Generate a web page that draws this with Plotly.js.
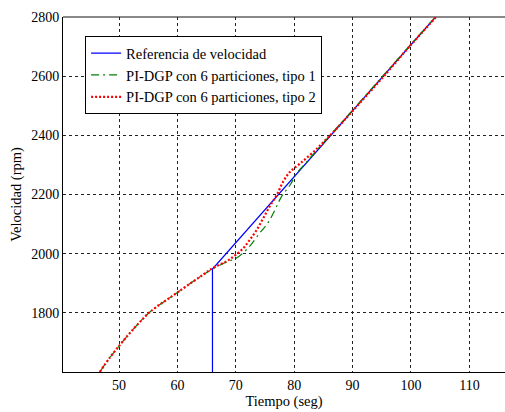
<!DOCTYPE html>
<html>
<head>
<meta charset="utf-8">
<script src="https://cdn.plot.ly/plotly-3.0.1.min.js"></script>
<style>html,body{margin:0;padding:0;background:#fff;}#chart{width:505px;height:412px;}</style>
</head>
<body>
<div id="chart"></div>
<script>
// Reference speed (blue)
const refTime = [66, 66, 104.2, 106];
const refSpeed = [1500, 1948, 2800, 2840];

// PI-DGP, 6 partitions, type 1 (green)
const t1Time = [46.7, 48.4, 50, 51.3, 52.4, 53.8, 55, 56.4, 58.4, 60, 62.1, 64.4, 66, 68.4, 70.1, 72.1, 74.1, 75.5, 76.7, 77.8, 79.3, 80.4, 81.5, 85, 90, 95, 100, 104.2, 106];
const t1Speed = [1600, 1648, 1688, 1719, 1744, 1774, 1798, 1820, 1847, 1869, 1898, 1929, 1948, 1972, 1985, 2019, 2070, 2104, 2148, 2192, 2232, 2271, 2296, 2375, 2485, 2597, 2708, 2800, 2840];

// PI-DGP, 6 partitions, type 2 (red)
const t2Time = [46.7, 48.4, 50, 51.3, 52.4, 53.8, 55, 56.4, 58.4, 60, 62.1, 64.4, 66.1, 68.4, 69.8, 71.3, 72.4, 73.6, 74.7, 75.8, 77, 78.1, 79.3, 81, 83.3, 85.6, 87.8, 90, 95, 100, 104.3, 106];
const t2Speed = [1600, 1648, 1688, 1719, 1744, 1774, 1798, 1820, 1847, 1869, 1898, 1929, 1952, 1974, 1993, 2019, 2047, 2081, 2120, 2160, 2198, 2243, 2277, 2305, 2344, 2389, 2434, 2482, 2592, 2706, 2800, 2838];

const xTicks = [50, 60, 70, 80, 90, 100, 110];
const yTicks = [1800, 2000, 2200, 2400, 2600, 2800];

const family = 'Liberation Serif';
const tickFont = {family: family, size: 14, color: '#000'};
const titleFont = {family: family, size: 14.5, color: '#000'};
const legendFont = {family: family, size: 14.5, color: '#000'};

const traces = [
  {x: refTime, y: refSpeed, mode: 'lines', name: 'Referencia de velocidad',
   line: {color: '#0000ff', width: 1.2}},
  {x: t1Time, y: t1Speed, mode: 'lines', name: 'PI-DGP con 6 particiones, tipo 1',
   line: {color: '#008000', width: 1.2, dash: '8px,4px,2px,4px', shape: 'spline', smoothing: 1}},
  {x: t2Time, y: t2Speed, mode: 'lines', name: 'PI-DGP con 6 particiones, tipo 2',
   line: {color: '#ff0000', width: 2.2, dash: '2px,2px', shape: 'spline', smoothing: 1}}
];

const layout = {
  width: 505, height: 412,
  margin: {l: 63, r: 0, t: 17, b: 40},
  paper_bgcolor: '#fff', plot_bgcolor: '#fff',
  font: tickFont,
  showlegend: true,
  legend: {x: 0.05, y: 0.946, xanchor: 'left', yanchor: 'top',
           bgcolor: '#fff', bordercolor: '#000', borderwidth: 1,
           font: legendFont, itemwidth: 30, tracegroupgap: 0},
  xaxis: {range: [40.4, 116.1], tickvals: xTicks, ticktext: xTicks.map(String),
          showgrid: true, gridcolor: '#222', griddash: '3px,3px', gridwidth: 1,
          showline: true, linecolor: '#000', linewidth: 1, zeroline: false,
          ticks: '', tickfont: tickFont, title: {text: 'Tiempo (seg)', font: titleFont, standoff: 3}},
  yaxis: {range: [1600, 2800], tickvals: yTicks, ticktext: yTicks.map(String),
          showgrid: true, gridcolor: '#222', griddash: '3px,3px', gridwidth: 1,
          showline: true, linecolor: '#000', linewidth: 1, zeroline: false,
          ticks: '', tickfont: tickFont, title: {text: 'Velocidad (rpm)', font: titleFont, standoff: 6}},
  shapes: [{type: 'line', xref: 'paper', yref: 'paper', x0: 0, x1: 1, y0: 1, y1: 1,
            line: {color: '#888', width: 2}, layer: 'below'}]
};

Plotly.newPlot('chart', traces, layout, {displayModeBar: false, staticPlot: true});
</script>
</body>
</html>
